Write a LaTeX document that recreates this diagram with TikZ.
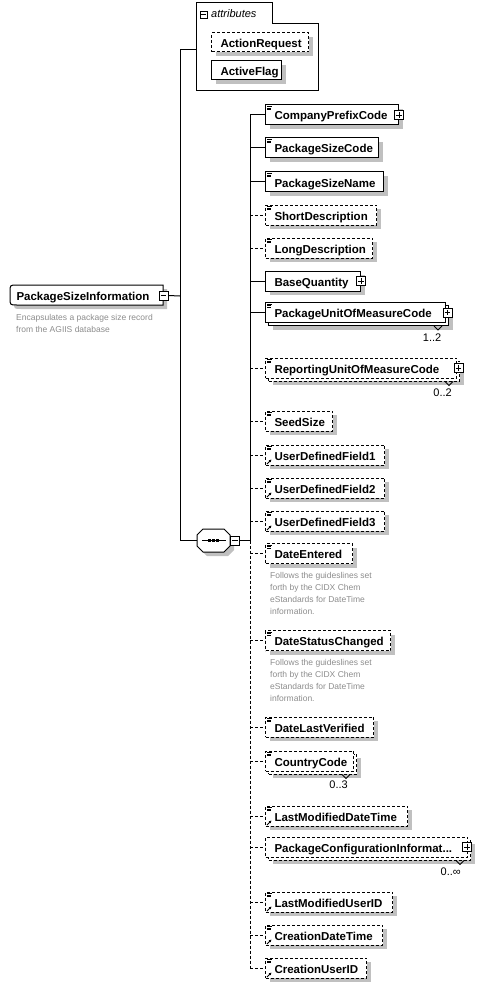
\documentclass[tikz,border=0pt]{standalone}
\usepackage{fontspec}
\setmainfont{Liberation Sans}
\usetikzlibrary{shadows,backgrounds,arrows.meta}
\definecolor{shdc}{RGB}{192,192,192}
\definecolor{descc}{RGB}{140,140,140}
\tikzset{
 box/.style={draw, fill=white, line width=1pt, minimum height=20pt, inner xsep=9pt, inner ysep=0pt,
   anchor=west, align=left, text height=10pt, text depth=0pt, font=\fontsize{11.5}{13}\selectfont\bfseries},
 shd/.style={drop shadow={shadow xshift=4pt, shadow yshift=-4pt, fill=shdc, opacity=1}},
 opt/.style={dash pattern=on 3pt off 2pt},
 pm/.style={draw, fill=white, line width=0.8pt, minimum size=9pt, inner sep=0pt},
 note/.style={font=\fontsize{8.5}{12}\selectfont, text=descc, align=left, anchor=north west, inner sep=0pt},
 mult/.style={font=\fontsize{11}{13}\selectfont, anchor=north east, inner sep=0pt},
 conn/.style={line width=1pt},
}
% element box: [style] name cy width text
\newcommand\elem[5][]{\pgfmathsetmacro\tw{#4-18}\node[box,#1, minimum width=#4pt, text width=\tw pt] (#2) at (265,#3) {#5};}
\newcommand\backbox[3][]{\begin{scope}[on background layer]\node[box,shd,#1, minimum width=#3pt] (#2B) at ([shift={(3pt,-3pt)}]#2.west) {};\end{scope}
  \draw[line width=0.8pt] ([xshift=-15pt]#2B.south east) -- ++(4pt,-4pt) -- ++(4pt,4pt);}
\newcommand\simpleicon[1]{\draw[line width=0.7pt] ([shift={(2pt,-2pt)}]#1.north west) -- ++(5pt,0pt)
  ([shift={(2pt,-3.6pt)}]#1.north west) -- ++(4pt,0pt) ([shift={(2pt,-5.2pt)}]#1.north west) -- ++(4pt,0pt);}
\newcommand\reficon[1]{\draw[line width=0.9pt, -{Latex[length=2.6pt,width=3pt]}] ([shift={(2pt,1.5pt)}]#1.south west) -- ++(4.5pt,4.5pt);}
\newcommand\plusicon[2]{\node[pm] (#1) at (#2) {};
  \draw[line width=0.8pt] ([xshift=2pt]#1.west) -- ([xshift=-2pt]#1.east) ([yshift=-2pt]#1.north) -- ([yshift=2pt]#1.south);}
\newcommand\minusicon[2]{\node[pm] (#1) at (#2) {};
  \draw[line width=0.8pt] ([xshift=2pt]#1.west) -- ([xshift=-2pt]#1.east);}
\begin{document}
\begin{tikzpicture}[x=1pt,y=-1pt]
\useasboundingbox (0,0) rectangle (484,987);

% ---------- root element ----------
\fill[shdc] (167,289) -- (21,289) .. controls (14,289) .. (14,296) -- (14,302) .. controls (14,309) .. (21,309) -- (167,309) -- cycle;
\draw[fill=white, line width=1pt] (163,285) -- (17,285) .. controls (10,285) .. (10,292) -- (10,298) .. controls (10,305) .. (17,305) -- (163,305) -- cycle;
\node[box, draw=none, fill=none, inner xsep=6pt, minimum width=153pt, text width=141pt] (root) at (10,295) {PackageSizeInformation};
\minusicon{rootm}{163.5,295.5}
\node[note] (rootdesc) at (16,314.5) {Encapsulates a package size record\\from the AGIIS database};
\coordinate (rj) at (180,296);

% ---------- attributes ----------
\draw[fill=white, line width=1pt] (196,3) -- (272,3) -- (272,24) -- (318,24) -- (318,91) -- (196,91) -- cycle;
\node[inner sep=0pt, minimum width=122pt, minimum height=88pt] (attrs) at (257,47) {};
\node[pm, minimum size=7pt] (attrm) at (203.5,14.5) {};
\draw[line width=0.7pt] ([xshift=1.5pt]attrm.west) -- ([xshift=-1.5pt]attrm.east);
\node[font=\fontsize{11}{13}\selectfont\itshape, anchor=west, inner sep=0pt] (attrlbl) at (211,14) {attributes};
\node[box, shd, opt, minimum height=19pt, minimum width=97pt, text width=79pt] (ar) at (211,42.5) {ActionRequest};
\node[box, shd, minimum height=19pt, minimum width=70pt, text width=52pt] (af) at (211,70.5) {ActiveFlag};

% ---------- sequence compositor ----------
\node[inner sep=0pt, minimum width=33pt, minimum height=23pt] (seq) at (213.5,540.5) {};
\fill[shdc] (207,533) -- (228,533) -- (234,539) -- (234,550) -- (228,556) -- (207,556) -- (201,550) -- (201,539) -- cycle;
\draw[fill=white, line width=1pt] (203,529) -- (224,529) -- (230,535) -- (230,546) -- (224,552) -- (203,552) -- (197,546) -- (197,535) -- cycle;
\draw[line width=1pt] (202,540.5) -- (226,540.5);
\foreach \d in {209.5,213.5,217.5} \fill (\d-1.4,539.1) rectangle (\d+1.4,541.9);
\minusicon{seqm}{235,540.5}

% ---------- child elements ----------
\elem[shd]{cpc}{115}{133}{CompanyPrefixCode}
\elem[shd]{psc}{148}{113}{PackageSizeCode}
\elem[shd]{psn}{182}{118}{PackageSizeName}
\elem[shd,opt]{sd}{215}{111}{ShortDescription}
\elem[shd,opt]{ld}{248}{107}{LongDescription}
\elem[shd]{bq}{281}{95}{BaseQuantity}
\elem{pum}{312.5}{180}{PackageUnitOfMeasureCode}
\elem[opt]{rum}{368}{191}{ReportingUnitOfMeasureCode}
\elem[shd,opt]{ss}{421}{67}{SeedSize}
\elem[shd,opt]{u1}{455}{119}{UserDefinedField1}
\elem[shd,opt]{u2}{488}{119}{UserDefinedField2}
\elem[shd,opt]{u3}{521}{119}{UserDefinedField3}
\elem[shd,opt]{de}{553.5}{87}{DateEntered}
\elem[shd,opt]{dsc}{640.5}{125}{DateStatusChanged}
\elem[shd,opt]{dlv}{727}{108}{DateLastVerified}
\elem[opt]{cc}{761}{88}{CountryCode}
\elem[shd,opt]{lmdt}{816}{142}{LastModifiedDateTime}
\elem[opt]{pci}{847}{202}{PackageConfigurationInformat...}
\elem[shd,opt]{lmu}{902}{127}{LastModifiedUserID}
\elem[shd,opt]{cdt}{935}{117}{CreationDateTime}
\elem[shd,opt]{cu}{968}{101}{CreationUserID}

% multiple-occurrence back boxes
\backbox{pum}{180}
\backbox[opt]{rum}{191}
\backbox[opt]{cc}{88}
\backbox[opt]{pci}{202}

% icons
\foreach \n in {cpc,psc,psn,sd,ld,pum,rum,ss,u1,u2,u3,de,dsc,dlv,cc,lmdt,lmu,cdt,cu} {\simpleicon{\n}}
\foreach \n in {u1,u2,u3,lmdt,lmu,cdt,cu} {\reficon{\n}}
\plusicon{cpcp}{cpc.east}
\plusicon{bqp}{bq.east}
\plusicon{pump}{[xshift=1.5pt]pum.east}
\plusicon{rump}{[xshift=1.5pt]rum.east}
\plusicon{pcip}{[xshift=-1pt]pci.east}

% multiplicities
\node[mult] (pumm) at ([shift={(-7.5pt,-7.5pt)}]pumB.south east) {1..2};
\node[mult] (rumm) at ([shift={(-8pt,-7.5pt)}]rumB.south east) {0..2};
\node[mult] (ccm) at ([shift={(-9pt,-6.5pt)}]ccB.south east) {0..3};
\node[mult] (pcim) at ([shift={(-10pt,-7.5pt)}]pciB.south east) {0..∞};

% annotations
\node[note] (dedesc) at (270,572.5) {Follows the guideslines set\\forth by the CIDX Chem\\eStandards for DateTime\\information.};
\node[note] (dscdesc) at (270,659.5) {Follows the guideslines set\\forth by the CIDX Chem\\eStandards for DateTime\\information.};

% ---------- connectors ----------
\draw[conn] (rootm.east) -- (rj);
\draw[conn] (rj) |- ([yshift=-3pt]attrs.west);
\draw[conn] (rj) |- (seq.west);
\coordinate (sp) at (250,540.5);
\draw[conn] (seqm.east) -- (sp);
\draw[conn] (sp) -- (sp |- cpc.west);
\draw[conn, opt] (sp) -- (sp |- cu.west);
\foreach \n in {cpc,psc,psn,bq,pum} {\draw[conn] (sp |- \n.west) -- (\n.west);}
\foreach \n in {sd,ld,rum,ss,u1,u2,u3,de,dsc,dlv,cc,lmdt,pci,lmu,cdt,cu} {\draw[conn,opt] (sp |- \n.west) -- (\n.west);}
\end{tikzpicture}
\end{document}
